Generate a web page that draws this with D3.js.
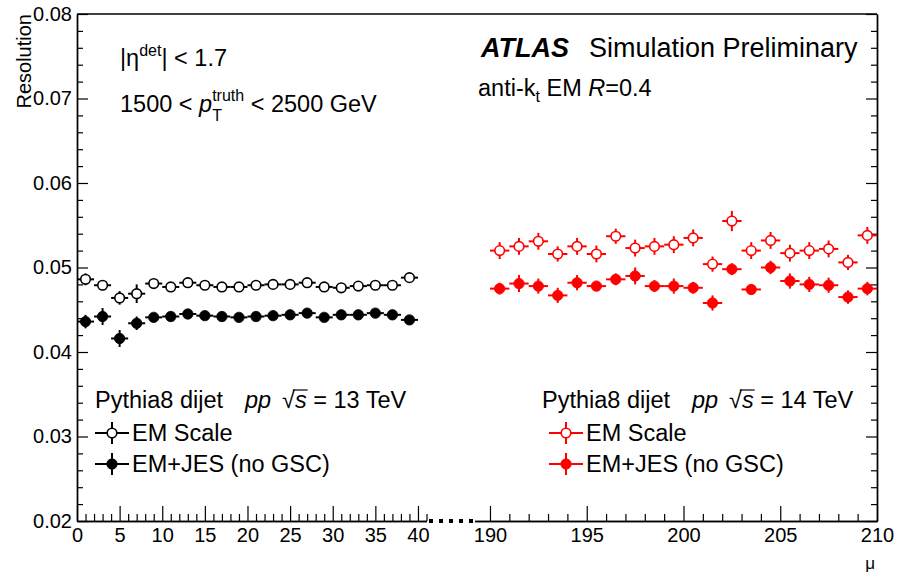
<!DOCTYPE html>
<html>
<head>
<meta charset="utf-8">
<script src="https://cdn.jsdelivr.net/npm/d3@7"></script>
<style>
  html, body { margin: 0; padding: 0; background: #fff; }
  svg { display: block; }
  text { font-family: "Liberation Sans", Arial, Helvetica, sans-serif; fill: #000; white-space: pre; }
</style>
</head>
<body>
<svg id="chart" width="906" height="574"></svg>
<script>
// ---- data: jet energy resolution vs pile-up mu ----
const muLow  = [1, 3, 5, 7, 9, 11, 13, 15, 17, 19, 21, 23, 25, 27, 29, 31, 33, 35, 37, 39];
const emScale13    = [0.0486, 0.0479, 0.0464, 0.0469, 0.0481, 0.0477, 0.0482, 0.0479, 0.0477, 0.0477,
                      0.0479, 0.0480, 0.0480, 0.0482, 0.0477, 0.0476, 0.0478, 0.0479, 0.0479, 0.0488];
const emScale13Err = [0.0007, 0.0006, 0.0008, 0.0011, 0.0004, 0.0004, 0.0004, 0.0004, 0.0004, 0.0004,
                      0.0004, 0.0004, 0.0004, 0.0004, 0.0004, 0.0004, 0.0004, 0.0004, 0.0004, 0.0004];
const emJes13      = [0.0436, 0.0442, 0.0416, 0.0434, 0.0441, 0.0442, 0.0445, 0.0443, 0.0442, 0.0441,
                      0.0442, 0.0443, 0.0444, 0.0446, 0.0441, 0.0444, 0.0444, 0.0446, 0.0444, 0.0438];
const emJes13Err   = [0.0008, 0.0010, 0.0010, 0.0008, 0.0004, 0.0004, 0.0004, 0.0004, 0.0004, 0.0004,
                      0.0004, 0.0004, 0.0004, 0.0004, 0.0004, 0.0004, 0.0004, 0.0004, 0.0004, 0.0004];

const muHigh = [190.5, 191.5, 192.5, 193.5, 194.5, 195.5, 196.5, 197.5, 198.5, 199.5,
                200.5, 201.5, 202.5, 203.5, 204.5, 205.5, 206.5, 207.5, 208.5, 209.5];
const emScale14    = [0.0520, 0.0525, 0.0531, 0.0516, 0.0525, 0.0516, 0.0537, 0.0523, 0.0525, 0.0527,
                      0.0535, 0.0504, 0.0555, 0.0520, 0.0532, 0.0517, 0.0520, 0.0522, 0.0506, 0.0538];
const emScale14Err = [0.0010, 0.0010, 0.0010, 0.0009, 0.0010, 0.0010, 0.0009, 0.0010, 0.0010, 0.0010,
                      0.0010, 0.0009, 0.0012, 0.0010, 0.0010, 0.0010, 0.0010, 0.0010, 0.0009, 0.0010];
const emJes14      = [0.0475, 0.0481, 0.0478, 0.0467, 0.0482, 0.0478, 0.0486, 0.0490, 0.0478, 0.0478,
                      0.0476, 0.0458, 0.0498, 0.0474, 0.0500, 0.0484, 0.0480, 0.0479, 0.0465, 0.0475];
const emJes14Err   = [0.0007, 0.0010, 0.0009, 0.0009, 0.0009, 0.0006, 0.0007, 0.0010, 0.0007, 0.0009,
                      0.0007, 0.0009, 0.0007, 0.0006, 0.0008, 0.0009, 0.0009, 0.0009, 0.0008, 0.0008];

const binHalfLow = 1.0, binHalfHigh = 0.5;

const yTicks      = [0.02, 0.03, 0.04, 0.05, 0.06, 0.07, 0.08];
const xTicksLow   = [0, 5, 10, 15, 20, 25, 30, 35, 40];
const xTicksHigh  = [190, 195, 200, 205, 210];

// ---- layout ----
const svg = d3.select("#chart");
const FONT = 20;      // axis labels
const TXT = 23.5;     // annotations and legend
const SCRIPT = 16;    // sub/superscripts
const plot = { left: 77, right: 877, top: 14, bottom: 521 };

const y  = d3.scaleLinear().domain([0.02, 0.08]).range([plot.bottom, plot.top]);
const xL = d3.scaleLinear().domain([0, 41]).range([plot.left, 426.5]);
const xR = d3.scaleLinear().domain([189.2, 210]).range([474.5, plot.right]);

function styleAxis(g) {
  g.selectAll(".domain").attr("stroke", "#000").attr("stroke-width", 1.4);
  g.selectAll(".tick line").attr("stroke", "#000").attr("stroke-width", 1.2);
  g.selectAll("text").attr("font-size", FONT).attr("fill", "#000")
    .attr("font-family", '"Liberation Sans", Arial, sans-serif');
}

// y axis (left, labelled) and mirror (right)
const yMinor = d3.range(0.02, 0.0801, 0.002).filter(v => Math.abs(Math.round(v * 100) - v * 100) > 1e-6);
svg.append("g").attr("transform", `translate(${plot.left},0)`)
  .call(d3.axisLeft(y).tickValues(yMinor).tickSizeInner(-6).tickSizeOuter(0).tickFormat(""))
  .call(styleAxis);
svg.append("g").attr("transform", `translate(${plot.left},0)`)
  .call(d3.axisLeft(y).tickValues(yTicks).tickSizeInner(-11).tickSizeOuter(0).tickPadding(5)
    .tickFormat(d3.format(".2f")))
  .call(styleAxis);
svg.append("g").attr("transform", `translate(${plot.right},0)`)
  .call(d3.axisRight(y).tickValues(yMinor).tickSizeInner(-6).tickSizeOuter(0).tickFormat(""))
  .call(styleAxis);
svg.append("g").attr("transform", `translate(${plot.right},0)`)
  .call(d3.axisRight(y).tickValues(yTicks).tickSizeInner(-11).tickSizeOuter(0).tickFormat(""))
  .call(styleAxis);

// top frame
svg.append("line").attr("x1", plot.left).attr("x2", plot.right)
  .attr("y1", plot.top).attr("y2", plot.top).attr("stroke", "#000").attr("stroke-width", 1.4);

// x axes: two segments with a break between them
const lowMinor  = d3.range(0, 42).filter(v => v % 5 !== 0);
const highMinor = d3.range(190, 211).filter(v => v % 5 !== 0);
function xAxis(scale, minor, major) {
  svg.append("g").attr("transform", `translate(0,${plot.bottom})`)
    .call(d3.axisBottom(scale).tickValues(minor).tickSizeInner(-7).tickSizeOuter(0).tickFormat(""))
    .call(styleAxis);
  svg.append("g").attr("transform", `translate(0,${plot.bottom})`)
    .call(d3.axisBottom(scale).tickValues(major).tickSizeInner(-15).tickSizeOuter(0).tickPadding(7)
      .tickFormat(d3.format("d")))
    .call(styleAxis);
}
xAxis(xL, lowMinor, xTicksLow);
xAxis(xR, highMinor, xTicksHigh);

// axis break
svg.append("line").attr("x1", 429).attr("x2", 474).attr("y1", plot.bottom).attr("y2", plot.bottom)
  .attr("stroke", "#000").attr("stroke-width", 4).attr("stroke-dasharray", "4,6");

// axis titles
svg.append("text").attr("transform", `translate(31,${plot.top}) rotate(-90)`)
  .attr("text-anchor", "end").attr("font-size", FONT).text("Resolution");
svg.append("text").attr("x", 875).attr("y", 569).attr("text-anchor", "end")
  .attr("font-size", 17).text("μ");

// ---- markers with error bars ----
const R = 5.2;
function drawSeries(xs, ys, errs, half, scale, color, open) {
  const g = svg.append("g");
  const pts = xs.map((x, i) => ({ x, v: ys[i], e: errs[i] }));
  const grp = g.selectAll("g").data(pts).join("g");
  grp.append("line")
    .attr("x1", d => scale(d.x - half)).attr("x2", d => scale(d.x + half))
    .attr("y1", d => y(d.v)).attr("y2", d => y(d.v))
    .attr("stroke", color).attr("stroke-width", 2);
  grp.append("line")
    .attr("x1", d => scale(d.x)).attr("x2", d => scale(d.x))
    .attr("y1", d => y(d.v - d.e)).attr("y2", d => y(d.v + d.e))
    .attr("stroke", color).attr("stroke-width", 2);
  grp.append("circle")
    .attr("cx", d => scale(d.x)).attr("cy", d => y(d.v))
    .attr("r", open ? R - 0.4 : R)
    .attr("fill", open ? "#fff" : color)
    .attr("stroke", color).attr("stroke-width", open ? 1.6 : 0.8);
}
drawSeries(muLow, emScale13, emScale13Err, binHalfLow, xL, "#000", true);
drawSeries(muLow, emJes13, emJes13Err, binHalfLow, xL, "#000", false);
drawSeries(muHigh, emScale14, emScale14Err, binHalfHigh, xR, "#ff0000", true);
drawSeries(muHigh, emJes14, emJes14Err, binHalfHigh, xR, "#ff0000", false);

// ---- rich text runs (sub/superscripts, italics) ----
function rich(x, yb, parts, color) {
  let cx = x, prevStart = x, prevW = 0;
  const g = svg.append("g");
  const placed = [];
  parts.forEach(p => {
    const start = p.at !== undefined ? x + p.at : (p.stack ? prevStart : cx);
    const t = g.append("text").attr("x", start).attr("y", yb + (p.dy || 0))
      .attr("font-size", p.size || TXT)
      .attr("font-style", p.italic ? "italic" : "normal")
      .attr("font-weight", p.bold ? "bold" : "normal")
      .attr("fill", color || "#000")
      .text(p.t);
    const w = t.node().getComputedTextLength();
    if (p.stack) {
      cx = start + Math.max(prevW, w);
    } else {
      prevStart = start; prevW = w; cx = start + w;
    }
    placed.push({ start, w, node: t });
  });
  return placed;
}

rich(120, 66, [
  { t: "|η" }, { t: "det", size: SCRIPT, dy: -10 }, { t: "| < 1.7" }
]);
rich(120, 112, [
  { t: "1500 < " }, { t: "p", italic: true },
  { t: "truth", size: SCRIPT, dy: -11 }, { t: "T", size: SCRIPT, dy: 9, stack: true },
  { t: " < 2500 GeV" }
]);

rich(481, 57, [
  { t: "ATLAS", size: 27, bold: true, italic: true },
  { t: "Simulation Preliminary", size: 27, at: 108 }
]);
rich(478, 96, [
  { t: "anti-k" }, { t: "t", size: SCRIPT, dy: 6 }, { t: " EM " }, { t: "R", italic: true }, { t: "=0.4" }
]);

function sqrtLabel(x, yb, energy) {
  const p = rich(x, yb, [
    { t: "Pythia8 dijet" }, { t: "pp", italic: true, at: 150 }, { t: "√", at: 187 }, { t: "s", italic: true },
    { t: " = " + energy + " TeV" }
  ]);
  const s = p[3];
  svg.append("line").attr("x1", s.start - 2).attr("x2", s.start + s.w + 1)
    .attr("y1", yb - 18).attr("y2", yb - 18).attr("stroke", "#000").attr("stroke-width", 1.2);
}
sqrtLabel(95, 408, 13);
sqrtLabel(542, 408, 14);

// ---- legends ----
function legendEntry(cx, cy, color, open, label) {
  const g = svg.append("g");
  g.append("line").attr("x1", cx - 17).attr("x2", cx + 17).attr("y1", cy).attr("y2", cy)
    .attr("stroke", color).attr("stroke-width", 2);
  g.append("line").attr("x1", cx).attr("x2", cx).attr("y1", cy - 11).attr("y2", cy + 11)
    .attr("stroke", color).attr("stroke-width", 2);
  g.append("circle").attr("cx", cx).attr("cy", cy).attr("r", open ? R - 0.4 : R)
    .attr("fill", open ? "#fff" : color).attr("stroke", color).attr("stroke-width", open ? 1.6 : 0.8);
  g.append("text").attr("x", cx + 20).attr("y", cy + 8).attr("font-size", TXT).text(label);
}
legendEntry(112, 433, "#000", true, "EM Scale");
legendEntry(112, 464, "#000", false, "EM+JES (no GSC)");
legendEntry(566, 433, "#ff0000", true, "EM Scale");
legendEntry(566, 464, "#ff0000", false, "EM+JES (no GSC)");
</script>
</body>
</html>
